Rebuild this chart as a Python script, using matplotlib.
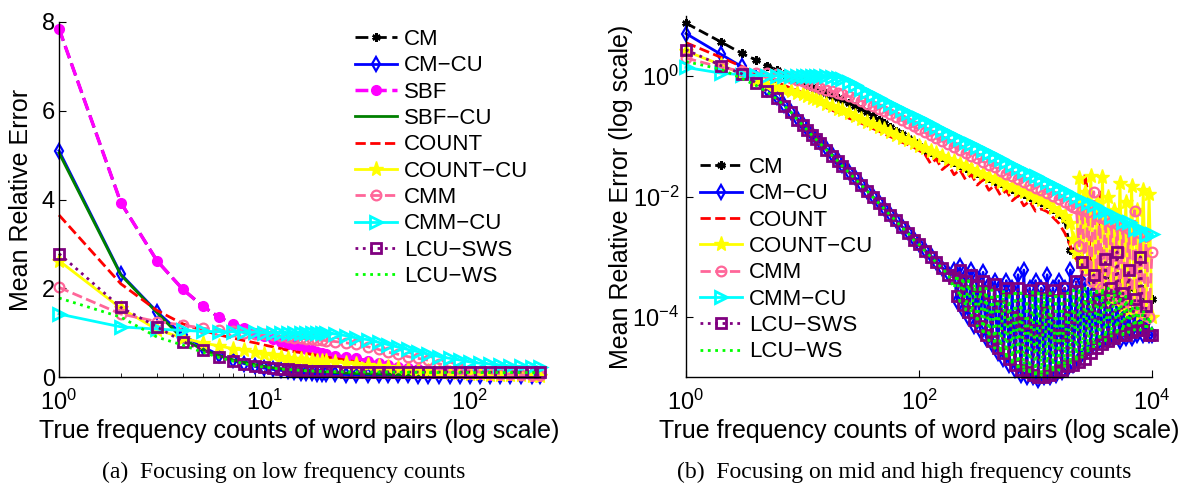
import matplotlib
matplotlib.use('Agg')
import matplotlib.pyplot as plt
from matplotlib.ticker import FixedLocator, NullLocator, LogFormatterSciNotation, LogLocator

plt.rcParams['font.family'] = ['Liberation Sans', 'DejaVu Sans']
plt.rcParams['mathtext.fontset'] = 'custom'
plt.rcParams['mathtext.rm'] = 'Liberation Sans'
plt.rcParams['mathtext.it'] = 'Liberation Sans:italic'
plt.rcParams['mathtext.bf'] = 'Liberation Sans:bold'

# ---------------- data: (a) low frequency counts, linear y ----------------
x_low = [1, 2, 3, 4, 5, 6, 7, 8, 9, 10, 11, 12, 13, 14, 15, 16, 17, 18, 19, 20,
         22, 25, 28, 32, 36, 40, 45, 50, 56, 63, 71, 80, 90, 100, 112, 126, 141, 158, 178, 200, 220]

cm_low = [7.85, 3.93, 2.62, 1.98, 1.6, 1.35, 1.2, 1.1, 1.0, 0.92,
          0.86, 0.8, 0.75, 0.71, 0.67, 0.63, 0.6, 0.57, 0.54, 0.52,
          0.48, 0.45, 0.42, 0.36, 0.31, 0.27, 0.23, 0.2, 0.17, 0.14,
          0.12, 0.1, 0.085, 0.07, 0.06, 0.05, 0.045, 0.04, 0.035, 0.03, 0.03]
cmcu_low = [5.1, 2.32, 1.47, 0.95, 0.68, 0.5, 0.38, 0.3, 0.24, 0.2,
            0.17, 0.15, 0.13, 0.11, 0.1, 0.09, 0.08, 0.075, 0.07, 0.065,
            0.06, 0.055, 0.05, 0.045, 0.04, 0.04, 0.035, 0.035, 0.03, 0.03,
            0.03, 0.025, 0.025, 0.025, 0.02, 0.02, 0.02, 0.02, 0.02, 0.02, 0.02]
sbf_low = [7.85, 3.93, 2.62, 1.98, 1.6, 1.35, 1.2, 1.1, 1.0, 0.92,
           0.86, 0.8, 0.75, 0.71, 0.67, 0.63, 0.6, 0.57, 0.54, 0.52,
           0.48, 0.45, 0.42, 0.36, 0.31, 0.27, 0.23, 0.2, 0.17, 0.14,
           0.12, 0.1, 0.085, 0.07, 0.06, 0.05, 0.045, 0.04, 0.035, 0.03, 0.03]
sbfcu_low = [5.05, 2.3, 1.45, 0.86, 0.62, 0.48, 0.39, 0.33, 0.28, 0.24,
             0.21, 0.19, 0.17, 0.16, 0.15, 0.14, 0.13, 0.12, 0.12, 0.11,
             0.1, 0.09, 0.08, 0.07, 0.065, 0.06, 0.055, 0.05, 0.045, 0.045,
             0.04, 0.04, 0.035, 0.035, 0.035, 0.03, 0.03, 0.03, 0.03, 0.03, 0.03]
count_low = [3.65, 2.1, 1.5, 1.2, 1.05, 0.95, 0.88, 0.82, 0.77, 0.72,
             0.68, 0.64, 0.6, 0.57, 0.55, 0.53, 0.51, 0.49, 0.47, 0.45,
             0.42, 0.38, 0.34, 0.3, 0.27, 0.24, 0.21, 0.19, 0.16, 0.14,
             0.12, 0.1, 0.09, 0.08, 0.07, 0.06, 0.055, 0.05, 0.045, 0.04, 0.035]
countcu_low = [2.62, 1.55, 1.07, 0.88, 0.77, 0.7, 0.64, 0.6, 0.56, 0.52,
               0.49, 0.46, 0.43, 0.41, 0.4, 0.39, 0.38, 0.37, 0.36, 0.35,
               0.34, 0.32, 0.3, 0.27, 0.24, 0.22, 0.2, 0.18, 0.15, 0.13,
               0.11, 0.09, 0.08, 0.07, 0.06, 0.05, 0.045, 0.04, 0.035, 0.03, 0.03]
cmm_low = [2.02, 1.42, 1.25, 1.17, 1.1, 1.06, 1.03, 1.0, 0.98, 0.96,
           0.94, 0.92, 0.9, 0.88, 0.87, 0.86, 0.85, 0.84, 0.83, 0.82,
           0.8, 0.77, 0.74, 0.68, 0.62, 0.56, 0.51, 0.46, 0.42, 0.38,
           0.3, 0.22, 0.18, 0.14, 0.11, 0.09, 0.07, 0.06, 0.05, 0.04, 0.035]
cmmcu_low = [1.42, 1.13, 1.08, 1.05, 1.03, 1.02, 1.02, 1.01, 1.01, 1.0,
             1.0, 1.0, 1.0, 1.0, 1.0, 1.0, 1.0, 1.0, 1.0, 1.0,
             0.97, 0.93, 0.88, 0.84, 0.78, 0.73, 0.67, 0.62, 0.57, 0.51,
             0.46, 0.42, 0.38, 0.34, 0.31, 0.29, 0.27, 0.25, 0.24, 0.23, 0.22]
lcusws_low = [2.78, 1.57, 1.13, 0.8, 0.6, 0.46, 0.37, 0.3, 0.25, 0.22,
              0.2, 0.18, 0.17, 0.16, 0.15, 0.145, 0.14, 0.135, 0.13, 0.13,
              0.125, 0.12, 0.12, 0.12, 0.115, 0.115, 0.115, 0.11, 0.11, 0.11,
              0.11, 0.11, 0.11, 0.11, 0.11, 0.11, 0.11, 0.11, 0.11, 0.11, 0.11]
lcuws_low = [1.78, 1.35, 0.9, 0.72, 0.56, 0.44, 0.36, 0.3, 0.25, 0.22,
             0.2, 0.18, 0.17, 0.16, 0.15, 0.14, 0.135, 0.13, 0.125, 0.12,
             0.12, 0.115, 0.115, 0.11, 0.11, 0.11, 0.105, 0.105, 0.105, 0.1,
             0.1, 0.1, 0.1, 0.1, 0.1, 0.1, 0.1, 0.1, 0.1, 0.1, 0.1]

# ---------------- data: (b) mid and high frequency counts, log y ----------------
# common grid
x_high = [1, 2, 3, 4, 5, 6, 7, 8, 9, 10, 11, 12, 13, 14,
          16, 18, 20, 22, 25, 28, 32, 36, 40, 45, 50, 56, 63, 71, 80, 90, 100,
          112, 126, 141, 158, 178, 200, 224, 251, 282, 316, 355, 398, 447, 501, 562, 631, 708, 794, 891, 1000,
          1122, 1259, 1413, 1585, 1778, 1995, 2239, 2512, 2818, 3162, 3548, 3981, 4467, 5012, 5623, 6310,
          7079, 7943, 8913, 10000]
# denser grid for the noisy high-count region
x_tail = [200, 212, 224, 238, 251, 266, 282, 299, 316, 335,
          355, 376, 398, 422, 447, 473, 501, 531, 562, 596,
          631, 668, 708, 750, 794, 841, 891, 944, 1000, 1059,
          1122, 1189, 1259, 1334, 1413, 1496, 1585, 1679, 1778, 1884,
          1995, 2113, 2239, 2371, 2512, 2661, 2818, 2985, 3162, 3350,
          3548, 3758, 3981, 4217, 4467, 4732, 5012, 5309, 5623, 5957,
          6310, 6683, 7079, 7499, 7943, 8414, 8913, 9441, 10000]
x_mid = x_high[:56] + x_tail[40:]     # up to 1778, then dense
x_dense = x_high[:36] + x_tail        # up to 178, then dense

# on x_high
cm_high = [7.6, 3.7, 2.4, 1.85, 1.5, 1.26, 1.1, 0.97, 0.87, 0.79, 0.72, 0.66, 0.61, 0.57,
           0.52, 0.47, 0.43, 0.4, 0.36, 0.32, 0.28, 0.25, 0.22, 0.19, 0.165, 0.145, 0.125, 0.108, 0.093, 0.08, 0.07,
           0.06, 0.055, 0.049, 0.045, 0.04, 0.037, 0.033, 0.03, 0.027, 0.0246, 0.022, 0.02, 0.018, 0.0165,
           0.015, 0.0135, 0.0123, 0.011, 0.01, 0.009,
           0.0082, 0.0074, 0.0061, 0.0052, 0.004, 0.0013, 0.0011, 0.0009, 0.0008, 0.0007, 0.0006, 0.0005,
           0.0005, 0.0004, 0.0004, 0.0003, 0.0003, 0.0003, 0.0002, 0.0002]
cmmcu_high = [1.4, 1.12, 1.06, 1.03, 1.02, 1.01, 1.0, 1.0, 1.0, 1.0, 1.0, 1.0, 1.0, 1.0,
              1.0, 0.98, 0.95, 0.9, 0.8, 0.71, 0.61, 0.54, 0.49, 0.43, 0.39, 0.35, 0.31, 0.277, 0.246,
              0.22, 0.2,
              0.179, 0.16, 0.143, 0.128, 0.115, 0.103, 0.092, 0.082, 0.074, 0.066, 0.059, 0.053, 0.047,
              0.042, 0.038, 0.034, 0.03, 0.027, 0.024, 0.0215,
              0.0193, 0.0172, 0.0154, 0.0138, 0.0124, 0.0111, 0.0099, 0.0089, 0.0079, 0.0071, 0.0058,
              0.0057, 0.0046, 0.0046, 0.0037, 0.0037, 0.0029, 0.0029, 0.0023, 0.0024]

# on x_mid
count_high = [3.6, 2.05, 1.45, 1.12, 0.92, 0.8, 0.7, 0.63, 0.58, 0.53, 0.49, 0.46, 0.43, 0.4,
              0.3, 0.27, 0.25, 0.23, 0.2, 0.185, 0.165, 0.15, 0.135, 0.123, 0.11, 0.1, 0.09, 0.08, 0.073,
              0.066, 0.058,
              0.051, 0.035, 0.042, 0.028, 0.034, 0.023, 0.028, 0.019, 0.023, 0.0155, 0.019, 0.0127, 0.0154,
              0.0104, 0.0126, 0.0085, 0.0103, 0.007, 0.0084, 0.0057,
              0.0062, 0.0056, 0.0045, 0.0036, 0.0025,
              0.0015, 0.0011, 0.0009, 0.0007, 6e-4, 0.024, 0.011, 4e-4, 3.5e-4, 3e-4,
              0.012, 2.5e-4, 2.5e-4, 2e-4, 2e-4, 1.8e-4, 1.6e-4, 1.5e-4, 1.4e-4, 1.3e-4,
              1.2e-4, 1.2e-4, 1.1e-4, 1.1e-4, 1.1e-4, 1e-4, 1e-4, 1e-4, 1e-4]
countcu_high = [2.6, 1.55, 1.08, 0.85, 0.72, 0.65, 0.6, 0.56, 0.53, 0.5, 0.47, 0.44, 0.41, 0.39,
                0.35, 0.32, 0.29, 0.27, 0.24, 0.22, 0.195, 0.175, 0.16, 0.145, 0.13, 0.118, 0.106, 0.095,
                0.086, 0.078, 0.07,
                0.0635, 0.0575, 0.052, 0.047, 0.0426, 0.0386, 0.035, 0.0316, 0.0286, 0.0259, 0.0234, 0.0212,
                0.0192, 0.0174, 0.0157, 0.0142, 0.0129, 0.0117, 0.0105, 0.0095,
                0.0086, 0.0078, 0.0064, 0.0055, 0.0048,
                0.0036, 0.002, 0.0012, 0.02, 8e-4, 0.012, 6e-4, 0.022, 4e-4, 0.008,
                3e-4, 0.021, 2.5e-4, 0.01, 2e-4, 0.006, 2e-4, 0.017, 1.5e-4, 0.008,
                1.3e-4, 0.015, 1.2e-4, 0.006, 1.1e-4, 0.013, 1e-4, 0.011, 1e-4]
cmm_high = [2.0, 1.4, 1.22, 1.15, 1.12, 1.08, 1.02, 0.95, 0.88, 0.82, 0.77, 0.72, 0.68, 0.64,
            0.6, 0.56, 0.53, 0.5, 0.46, 0.43, 0.39, 0.35, 0.32, 0.29, 0.26, 0.235, 0.21, 0.185, 0.165,
            0.146, 0.13,
            0.116, 0.104, 0.093, 0.083, 0.075, 0.067, 0.06, 0.053, 0.048, 0.043, 0.038, 0.034, 0.031,
            0.027, 0.024, 0.022, 0.0196, 0.0175, 0.0157, 0.014,
            0.0126, 0.0113, 0.0101, 0.009, 0.0081,
            0.0072, 0.0068, 0.0065, 0.0015, 0.006, 6e-4, 0.0055, 4e-4, 0.012, 3.5e-4,
            0.0045, 3e-4, 0.0042, 2.5e-4, 0.0038, 2.2e-4, 0.0035, 2e-4, 0.0032, 1.8e-4,
            0.0029, 1.5e-4, 0.0058, 1.3e-4, 0.0025, 1.1e-4, 0.0022, 1e-4, 0.0012]

# on x_dense
cmcu_high = [5.1, 2.3, 1.45, 0.95, 0.62, 0.45, 0.33, 0.25, 0.2, 0.16, 0.13, 0.11, 0.095, 0.082,
             0.063, 0.05, 0.04, 0.033, 0.026, 0.021, 0.016, 0.0125, 0.0101, 0.008, 0.0065, 0.0052, 0.0041,
             0.0032, 0.0026, 0.002, 0.00165,
             0.0013, 0.00105, 0.00083, 0.00066, 0.00053,
             6e-4, 1.8e-4, 7e-4, 1.3e-4, 5e-4, 1e-4, 6e-4, 7e-5, 4.5e-4, 6e-5,
             5.5e-4, 4.5e-5, 3.5e-4, 3.5e-5, 4e-4, 2.5e-5, 3e-4, 2e-5, 4e-4, 1.6e-5,
             3e-4, 1.3e-5, 5e-4, 1.1e-5, 6e-4, 1e-5, 3e-4, 1e-5, 4e-4, 9e-6,
             3e-4, 1e-5, 5e-4, 1e-5, 3e-4, 1.1e-5, 4e-4, 1.2e-5, 3e-4, 1.4e-5,
             6e-4, 1.6e-5, 3.5e-4, 2e-5, 4e-4, 2.5e-5, 3e-4, 3e-5, 2.5e-4, 3.5e-5,
             2.5e-4, 4e-5, 2e-4, 4e-5, 2e-4, 4.5e-5, 1.8e-4, 4e-5, 1.5e-4, 4.5e-5,
             1.3e-4, 4.5e-5, 1.1e-4, 5e-5, 1e-4, 5e-5, 8e-5, 5e-5, 5e-5]
lcusws_high = [2.75, 1.5, 1.1, 0.77, 0.56, 0.43, 0.32, 0.25, 0.19, 0.155, 0.126, 0.105, 0.09, 0.078,
               0.06, 0.048, 0.039, 0.032, 0.025, 0.02, 0.0155, 0.0122, 0.0099, 0.0078, 0.0063, 0.005,
               0.004, 0.0031, 0.0025, 0.0019, 0.0016,
               0.00125, 0.001, 0.0008, 0.00064, 0.0005,
               4.5e-4, 2.2e-4, 6e-4, 1.6e-4, 4e-4, 1.2e-4, 5e-4, 9e-5, 3.2e-4, 7e-5,
               4e-4, 5e-5, 2.5e-4, 4e-5, 3.5e-4, 3e-5, 1.5e-4, 2.5e-5, 3e-4, 2e-5,
               1e-4, 1.6e-5, 3e-4, 1.3e-5, 8e-5, 1.2e-5, 2.8e-4, 1.1e-5, 6e-5, 1e-5,
               3e-4, 1e-5, 1.2e-4, 1.1e-5, 2.8e-4, 1.2e-5, 5e-5, 1.3e-5, 3e-4, 1.5e-5,
               1e-4, 1.6e-5, 4e-4, 1.8e-5, 8e-4, 2e-5, 1.5e-4, 2.5e-5, 5e-4, 3e-5,
               2e-4, 3.5e-5, 9e-4, 4e-5, 3e-4, 4.5e-5, 1.2e-3, 5e-5, 2.5e-4, 5e-5,
               6e-4, 5.5e-5, 2e-4, 6e-5, 1e-3, 6e-5, 1.5e-4, 5e-5, 5e-5]
lcuws_high = [1.75, 1.3, 0.92, 0.7, 0.54, 0.42, 0.32, 0.25, 0.19, 0.155, 0.126, 0.105, 0.09, 0.078,
              0.06, 0.048, 0.039, 0.032, 0.025, 0.02, 0.0155, 0.0122, 0.0099, 0.0078, 0.0063, 0.005,
              0.004, 0.0031, 0.0025, 0.0019, 0.0016,
              0.00125, 0.001, 0.0008, 0.00064, 0.0005,
              3e-4, 5e-4, 1.8e-4, 4.5e-4, 1.3e-4, 4e-4, 1e-4, 3.5e-4, 7e-5, 3e-4,
              5e-5, 3e-4, 4e-5, 2.8e-4, 3e-5, 2.5e-4, 2.5e-5, 2.8e-4, 2e-5, 2.5e-4,
              1.6e-5, 2.8e-4, 1.3e-5, 2.5e-4, 1.2e-5, 2.5e-4, 1.1e-5, 2.6e-4, 1e-5, 2.5e-4,
              1e-5, 2.5e-4, 1.1e-5, 2.5e-4, 1.2e-5, 2.5e-4, 1.3e-5, 2.5e-4, 1.4e-5, 2.5e-4,
              1.6e-5, 2.8e-4, 1.8e-5, 3e-4, 2e-5, 3e-4, 2.5e-5, 2.8e-4, 3e-5, 3e-4,
              3.5e-5, 3e-4, 4e-5, 3e-4, 4.5e-5, 2.8e-4, 5e-5, 2.5e-4, 5e-5, 2.2e-4,
              5.5e-5, 2e-4, 6e-5, 1.6e-4, 6e-5, 1.3e-4, 6e-5, 1e-4, 6e-5]

# ---------------- styles ----------------
styles = {
    'CM':        dict(color='black', ls='--', lw=2, marker=(6, 2, 0), ms=6, mew=1.8),
    'CM-CU':     dict(color='#0000ff', ls='-', lw=2, marker='d', ms=7, mfc='none', mew=1.6),
    'SBF':       dict(color='#ff00ff', ls='--', lw=2.5, marker='o', ms=7, mfc='#ff00ff'),
    'SBF-CU':    dict(color='#008000', ls='-', lw=2),
    'COUNT':     dict(color='#ff0000', ls='--', lw=2),
    'COUNT-CU':  dict(color='#ffff00', ls='-', lw=2, marker='*', ms=11),
    'CMM':       dict(color='#ff6699', ls='--', lw=2, marker='o', ms=7, mfc='none', mew=1.6),
    'CMM-CU':    dict(color='#00ffff', ls='-', lw=2, marker='>', ms=9, mfc='none', mew=2),
    'LCU-SWS':   dict(color='#800080', ls=':', lw=2, marker='s', ms=6.5, mfc='none', mew=2),
    'LCU-WS':    dict(color='#00ff00', ls=':', lw=2),
}
# in panel (a) CM sits exactly under SBF: give it SBF's dash pattern so it stays hidden
cm_low_style = dict(styles['CM'], ls=(0, (3.7 * 2.5 / 2, 1.6 * 2.5 / 2)))

low_series = [('CM', x_low, cm_low), ('CM-CU', x_low, cmcu_low), ('SBF', x_low, sbf_low),
              ('SBF-CU', x_low, sbfcu_low), ('COUNT', x_low, count_low),
              ('COUNT-CU', x_low, countcu_low), ('CMM', x_low, cmm_low),
              ('CMM-CU', x_low, cmmcu_low), ('LCU-SWS', x_low, lcusws_low), ('LCU-WS', x_low, lcuws_low)]
high_series = [('CM', x_high, cm_high), ('CM-CU', x_dense, cmcu_high), ('COUNT', x_mid, count_high),
               ('COUNT-CU', x_mid, countcu_high), ('CMM', x_mid, cmm_high),
               ('CMM-CU', x_high, cmmcu_high), ('LCU-SWS', x_dense, lcusws_high),
               ('LCU-WS', x_dense, lcuws_high)]

FS_TICK = 17
FS_LAB = 18
FS_LEG = 16
W, H = 1192, 483
fig = plt.figure(figsize=(W / 100, H / 100), dpi=100)

ax1 = fig.add_axes([59 / W, 1 - 377 / H, 481 / W, 355 / H])
ax2 = fig.add_axes([686 / W, 1 - 377 / H, 466 / W, 361 / H])


def draw(ax, series, override=None):
    for name, x, y in series:
        st = styles[name]
        if override and name in override:
            st = override[name]
        ax.plot(x, y, label=name.replace('-', '\u2212'), clip_on=False, **st)


def style_axes(ax):
    for s in ['top', 'right']:
        ax.spines[s].set_visible(False)
    for s in ['left', 'bottom']:
        ax.spines[s].set_linewidth(1)
    ax.tick_params(which='both', direction='in', labelsize=FS_TICK)
    ax.tick_params(which='major', length=5)
    ax.tick_params(which='minor', length=3)


def add_legend(ax, x0, y0):
    ax.legend(loc='upper left', bbox_to_anchor=(x0 / W, 1 - y0 / H), bbox_transform=fig.transFigure,
              frameon=False, fontsize=FS_LEG, borderpad=0, borderaxespad=0, handlelength=1.9,
              handletextpad=0.3, labelspacing=0.24)


# (a)
draw(ax1, low_series, override={'CM': cm_low_style})
ax1.set_xscale('log')
ax1.set_xlim(1, 220)
ax1.set_ylim(0, 8)
ax1.set_yticks([0, 2, 4, 6, 8])
ax1.xaxis.set_major_locator(FixedLocator([1, 10, 100]))
ax1.xaxis.set_major_formatter(LogFormatterSciNotation())
ax1.xaxis.set_minor_locator(LogLocator(subs=range(2, 10)))
style_axes(ax1)
ax1.tick_params(axis='x', which='both', pad=9)
ax1.tick_params(axis='y', pad=3)
ax1.set_xlabel('True frequency counts of word pairs (log scale)', fontsize=FS_LAB, va='center')
ax1.xaxis.set_label_coords(0.5, (377 - 431) / 355)
ax1.set_ylabel('Mean Relative Error', fontsize=FS_LAB, va='center')
ax1.yaxis.set_label_coords((21 - 59) / 481, 0.5)
add_legend(ax1, 355, 29)

# (b)
draw(ax2, high_series)
ax2.set_xscale('log')
ax2.set_yscale('log')
ax2.set_xlim(1, 1e4)
ax2.set_ylim(1e-5, 10)
ax2.xaxis.set_major_locator(FixedLocator([1, 100, 1e4]))
ax2.xaxis.set_major_formatter(LogFormatterSciNotation())
ax2.xaxis.set_minor_locator(NullLocator())
ax2.yaxis.set_major_locator(FixedLocator([1e-4, 1e-2, 1]))
ax2.yaxis.set_major_formatter(LogFormatterSciNotation())
ax2.yaxis.set_minor_locator(NullLocator())
style_axes(ax2)
ax2.tick_params(axis='x', pad=9)
ax2.tick_params(axis='y', pad=5)
ax2.set_xlabel('True frequency counts of word pairs (log scale)', fontsize=FS_LAB, va='center')
ax2.xaxis.set_label_coords(0.5, (377 - 431) / 361)
ax2.set_ylabel('Mean Relative Error (log scale)', fontsize=FS_LAB, va='center')
ax2.yaxis.set_label_coords((621 - 686) / 466, 0.5)
add_legend(ax2, 700, 157)

# captions
fig.text(284 / W, 1 - 472 / H, '(a)  Focusing on low frequency counts', family='Liberation Serif',
         fontsize=17, ha='center', va='center')
fig.text(904 / W, 1 - 472 / H, '(b)  Focusing on mid and high frequency counts', family='Liberation Serif',
         fontsize=17, ha='center', va='center')

fig.savefig('out.png', dpi=100)
